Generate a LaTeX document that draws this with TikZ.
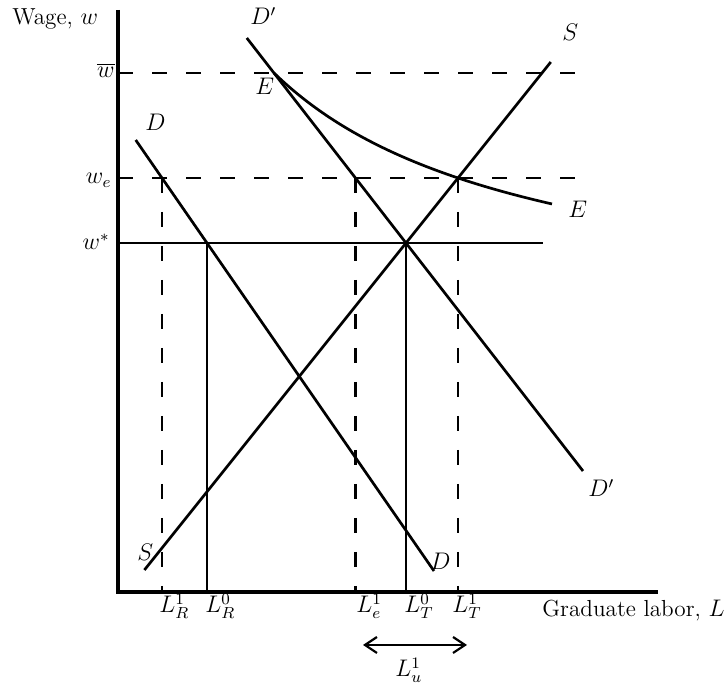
\documentclass[tikz,border=0pt]{standalone}
\usetikzlibrary{arrows.meta}
\begin{document}
\begin{tikzpicture}[x=0.5pt,y=-0.5pt,
  ln/.style={line width=1.35pt},
  ax/.style={line width=1.6pt},
  dsh/.style={line width=1.35pt, dash pattern=on 7.5pt off 9.5pt},
  lbl/.style={inner sep=0pt, anchor=base west, font=\fontsize{11.6}{14}\selectfont},
  lblr/.style={inner sep=0pt, anchor=base east, font=\fontsize{11.6}{14}\selectfont},
  ]
\useasboundingbox (0,0) rectangle (725,683);
% coordinates
\coordinate (O) at (118,592);
\coordinate (Ytop) at (118,10);
\coordinate (Xend) at (658,592);
\coordinate (wbarL) at (118,73); \coordinate (wbarR) at (590,73);
\coordinate (weL) at (118,178); \coordinate (weR) at (590,178);
\coordinate (wsL) at (118,243); \coordinate (wsR) at (543,243);
\coordinate (D1) at (135.7,140); \coordinate (D2) at (434,571);
\coordinate (Dp1) at (246.8,38); \coordinate (Dp2) at (583,471);
\coordinate (S1) at (144.4,570); \coordinate (S2) at (550.8,62);
\coordinate (a1) at (162,178); \coordinate (a0) at (162,592);
\coordinate (b1) at (207,243); \coordinate (b0) at (207,592);
\coordinate (c1) at (355.5,178); \coordinate (c0) at (355.5,592);
\coordinate (d1) at (406,243); \coordinate (d0) at (406,592);
\coordinate (e1) at (458,178); \coordinate (e0) at (458,592);
\coordinate (u1) at (363,645); \coordinate (u2) at (467,645);
% axes
\draw[ax] (Ytop) -- (O) -- (Xend);
% horizontal lines
\draw[dsh] (wbarL) -- (wbarR);
\draw[dsh] (weL) -- (weR);
\draw[ln] (wsL) -- (wsR);
% vertical lines
\draw[dsh] (a1) -- (a0);
\draw[ln] (b1) -- (b0);
\draw[dsh] (c1) -- (c0);
\draw[ln] (d1) -- (d0);
\draw[dsh] (e1) -- (e0);
% curves
\draw[ln] (D1) -- (D2);
\draw[ln] (Dp1) -- (Dp2);
\draw[ln] (S1) -- (S2);
\draw[ln] plot[domain=274:552,samples=80,smooth] (\x,{327.2-664.79/((\x-12.5)/100)});
% arrow
\draw[line width=1.1pt,{Straight Barb[length=6pt,width=8pt]}-{Straight Barb[length=6pt,width=8pt]}] (u1) -- (u2);
% labels
\node[lbl] (lwage) at (12,25) {Wage, $w$};
\node[lblr] (lwbar) at (115,78) {$\overline{w}$};
\node[lblr] (lwe) at (112,184) {$w_e$};
\node[lblr] (lws) at (110,250) {$w^*$};
\node[lbl] (lDtop) at (145,131) {$D$};
\node[lbl] (lDptop) at (250,25) {$D'$};
\node[lbl] (lEtop) at (255,95) {$E$};
\node[lbl] (lStop) at (562,41) {$S$};
\node[lbl] (lEr) at (568,218) {$E$};
\node[lbl] (lDpbot) at (588,497) {$D'$};
\node[lbl] (lDbot) at (430,570) {$D$};
\node[lbl] (lSbot) at (137,561) {$S$};
\node[lbl] (lLR1) at (159,613) {$L_R^1$};
\node[lbl] (lLR0) at (205,613) {$L_R^0$};
\node[lbl] (lLe1) at (356,613) {$L_e^1$};
\node[lbl] (lLT0) at (404,613) {$L_T^0$};
\node[lbl] (lLT1) at (452,613) {$L_T^1$};
\node[lbl] (lLu1) at (395,677) {$L_u^1$};
\node[lbl] (lGrad) at (542,617) {Graduate labor, $L$};
\end{tikzpicture}
\end{document}
